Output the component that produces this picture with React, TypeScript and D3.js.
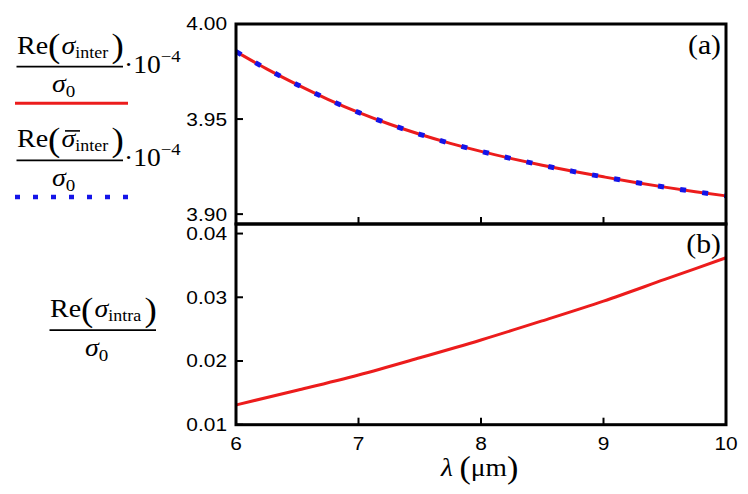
import React from 'react';
import * as d3 from 'd3';

// ---- data ----
const lambdaA = [6, 6.25, 6.5, 6.75, 7, 7.25, 7.5, 7.75, 8, 8.25, 8.5, 8.75, 9, 9.25, 9.5, 9.75, 10];
const sigmaInter = [3.9855, 3.9764, 3.9681, 3.9604, 3.9535, 3.9474, 3.942, 3.9372, 3.933, 3.9292, 3.9257, 3.9225, 3.9196, 3.9168, 3.9142, 3.9118, 3.9096];
const sigmaInterBar = [3.9855, 3.9764, 3.9681, 3.9604, 3.9535, 3.9474, 3.942, 3.9372, 3.933, 3.9292, 3.9257, 3.9225, 3.9196, 3.9168, 3.9142, 3.9118, 3.9096];
const lambdaB = [6, 6.5, 7, 7.5, 8, 8.5, 9, 9.5, 10];
const sigmaIntra = [0.0131, 0.0154, 0.0178, 0.0205, 0.0233, 0.0263, 0.0294, 0.0328, 0.0362];
const xTicks = [6, 7, 8, 9, 10];
const yTicksA = [3.9, 3.95, 4.0];
const yTicksB = [0.01, 0.02, 0.03, 0.04];

const RED = '#ec1c1c';
const BLUE = '#1414e8';
const SANS = 'Liberation Sans, Arial, sans-serif';
const SERIF = 'Liberation Serif, Times New Roman, serif';

const L = 236, R = 726, TOP = 24, MID = 224, BOT = 424.7;
const SX = 1.16;

export default function App() {
  const x = d3.scaleLinear().domain([6, 10]).range([L, R]);
  const yA = d3.scaleLinear().domain([3.8948, 4.0]).range([MID, TOP]);
  const yB = d3.scaleLinear().domain([0.01, 0.0415]).range([BOT, MID]);

  const lineA = d3.line<number>().x((_, i) => x(lambdaA[i])).y((d) => yA(d)).curve(d3.curveMonotoneX);
  const lineB = d3.line<number>().x((_, i) => x(lambdaB[i])).y((d) => yB(d)).curve(d3.curveMonotoneX);

  const fmt = d3.format('.2f');

  const frac = (dx: number, dy: number, sub: string, bar: boolean, power: boolean) => (
    <g transform={`translate(${dx},${dy})`}>
      <g transform={`translate(17,53.5) scale(1.12,1)`}>
        <text fontFamily={SERIF} fontSize={25} fill="#000">
          <tspan>Re</tspan>
          <tspan fontSize={33} dy={3.5}>(</tspan>
          <tspan fontStyle="italic" dy={-3.5} dx={1}>σ</tspan>
          <tspan fontSize={16} dy={4}>{sub}</tspan>
          <tspan fontSize={33} dy={-0.5} dx={3}>)</tspan>
        </text>
      </g>
      {bar && <line x1={65} x2={80} y1={37.3} y2={37.3} stroke="#000" strokeWidth={1.6} />}
      <line x1={16.5} x2={123} y1={66.7} y2={66.7} stroke="#000" strokeWidth={1.7} />
      {power && (
        <g transform={`translate(124,72.5) scale(1.1,1)`}>
          <text fontFamily={SERIF} fontSize={25} fill="#000">
            <tspan>·10</tspan>
            <tspan fontSize={17} dy={-11}>−4</tspan>
          </text>
        </g>
      )}
      <g transform={`translate(52,92) scale(1.12,1)`}>
        <text fontFamily={SERIF} fontSize={25} fill="#000">
          <tspan fontStyle="italic">σ</tspan>
          <tspan fontSize={17} dy={5}>0</tspan>
        </text>
      </g>
    </g>
  );

  return (
    <svg width={748} height={494} style={{ position: 'absolute', left: 0, top: 0, background: '#fff' }}>
      <rect x={0} y={0} width={748} height={494} fill="#fff" />
      {/* legend */}
      {frac(0, 0, 'inter', false, true)}
      <line x1={15} x2={128} y1={103.3} y2={103.3} stroke={RED} strokeWidth={3} />
      {frac(0, 93.6, 'inter', true, true)}
      <line x1={15} x2={130} y1={197} y2={197} stroke={BLUE} strokeWidth={4.5} strokeDasharray="5 13" />
      {frac(33, 263.5, 'intra', false, false)}

      {/* data */}
      <path d={lineA(sigmaInter) || ''} fill="none" stroke={RED} strokeWidth={3} />
      <path d={lineA(sigmaInterBar) || ''} fill="none" stroke={BLUE} strokeWidth={5} strokeDasharray="6 16.3" />
      <path d={lineB(sigmaIntra) || ''} fill="none" stroke={RED} strokeWidth={3} />

      {/* ticks */}
      {xTicks.slice(1, -1).map((t) => (
        <g key={'xt' + t}>
          <line x1={x(t)} x2={x(t)} y1={MID} y2={MID - 7} stroke="#000" strokeWidth={2} />
          <line x1={x(t)} x2={x(t)} y1={BOT} y2={BOT - 7} stroke="#000" strokeWidth={2} />
        </g>
      ))}
      {yTicksA.map((t) => (
        <g key={'ya' + t}>
          <line x1={L} x2={L + 7} y1={yA(t)} y2={yA(t)} stroke="#000" strokeWidth={2} />
          <g transform={`translate(227,${yA(t)}) scale(${SX},1)`}>
            <text fontFamily={SANS} fontSize={18} textAnchor="end" dy="0.36em" fill="#000">{fmt(t)}</text>
          </g>
        </g>
      ))}
      {yTicksB.map((t) => (
        <g key={'yb' + t}>
          <line x1={L} x2={L + 7} y1={yB(t)} y2={yB(t)} stroke="#000" strokeWidth={2} />
          <g transform={`translate(227,${yB(t)}) scale(${SX},1)`}>
            <text fontFamily={SANS} fontSize={18} textAnchor="end" dy="0.36em" fill="#000">{fmt(t)}</text>
          </g>
        </g>
      ))}
      {xTicks.map((t) => (
        <g key={'xl' + t} transform={`translate(${x(t)},449.5) scale(${SX},1)`}>
          <text fontFamily={SANS} fontSize={18} textAnchor="middle" fill="#000">{t}</text>
        </g>
      ))}

      {/* frames */}
      <rect x={L} y={TOP} width={R - L} height={MID - TOP} fill="none" stroke="#000" strokeWidth={3} />
      <rect x={L} y={MID} width={R - L} height={BOT - MID} fill="none" stroke="#000" strokeWidth={3} />

      {/* panel labels */}
      <g transform={`translate(721,54) scale(1.1,1)`}>
        <text fontFamily={SERIF} fontSize={27} textAnchor="end" fill="#000">(a)</text>
      </g>
      <g transform={`translate(721,253) scale(1.1,1)`}>
        <text fontFamily={SERIF} fontSize={27} textAnchor="end" fill="#000">(b)</text>
      </g>

      {/* x label */}
      <g transform={`translate(441,476) scale(1.1,1)`}>
        <text fontFamily={SERIF} fontSize={25} fill="#000">
          <tspan fontStyle="italic">λ</tspan>
          <tspan dx={6} fontSize={31} dy={2}>(</tspan>
          <tspan fontSize={25} dy={-2}>μm</tspan>
          <tspan fontSize={31} dy={2}>)</tspan>
        </text>
      </g>
    </svg>
  );
}
